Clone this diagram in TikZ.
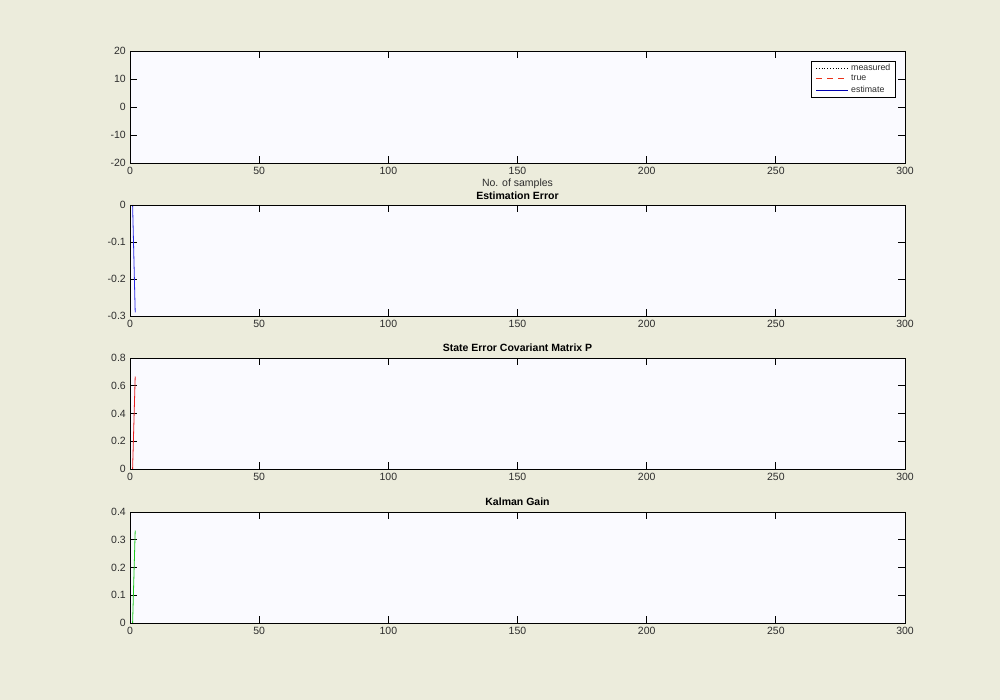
\documentclass[tikz,border=0pt]{standalone}
\usepackage{fontspec}
\setmainfont{Liberation Sans}
\definecolor{bgc}{RGB}{236,236,220}
\definecolor{axbg}{RGB}{250,250,255}
\definecolor{txt}{RGB}{45,45,45}
\definecolor{estblue}{RGB}{40,40,230}
\definecolor{pred}{RGB}{230,30,30}
\definecolor{kgreen}{RGB}{30,200,30}
\newcommand\plotaxes[6]{% #1 top, #2 ymin, #3 ymax, #4 ytick list, #5 name, #6 bottom
  \fill[axbg] (130,#1) rectangle (905,#6);
  \foreach \v [count=\i] in {0,50,...,300}{
    \draw[tk] (130+\v*2.58333,#1) -- ++(0,7);
    \draw[tk] (130+\v*2.58333,#6) -- ++(0,-7);
    \node[lab,anchor=north] (#5x\i) at (130+\v*2.58333,#6+4) {\v};
  }
  \foreach \v [count=\i] in {#4}{
    \pgfmathsetmacro\yy{#6-(\v-(#2))/((#3)-(#2))*(#6-#1)}
    \draw[tk] (130,\yy) -- ++(7,0);
    \draw[tk] (905,\yy) -- ++(-7,0);
    \node[lab,anchor=east] (#5y\i) at (126,\yy) {\v};
  }
}
\begin{document}
\begin{tikzpicture}[x=1pt,y=-1pt,
  lab/.style={font=\fontsize{10.5}{12}\selectfont, text=txt, inner sep=0pt},
  ttl/.style={font=\fontsize{10.5}{12}\selectfont\bfseries, text=black, inner sep=0pt},
  leg/.style={font=\fontsize{8.8}{10}\selectfont, text=txt, inner sep=0pt, anchor=west},
  tk/.style={line width=0.8pt, black},
  box/.style={line width=0.9pt, black}]
\fill[bgc] (0,0) rectangle (1000,700);
% axes 1
\plotaxes{51}{-20}{20}{-20,-10,0,10,20}{a}{163}
\plotaxes{205}{-0.3}{0}{-0.3,-0.2,-0.1,0}{b}{316}
\plotaxes{358}{0}{0.8}{0,0.2,0.4,0.6,0.8}{c}{469}
\plotaxes{512}{0}{0.4}{0,0.1,0.2,0.3,0.4}{d}{623}
% data
\coordinate (b1) at (132.6,205);
\coordinate (b2) at (135.2,312.3);
\draw[estblue, line width=0.8pt] (b1) -- (b2);
\coordinate (c1) at (132.6,469);
\coordinate (c2) at (135.2,376.5);
\draw[pred, line width=0.8pt] (c1) -- (c2);
\coordinate (d1) at (132.6,623);
\coordinate (d2) at (135.2,530.5);
\draw[kgreen, line width=0.8pt] (d1) -- (d2);
% boxes
\draw[box] (130,51) rectangle (905,163);
\draw[box] (130,205) rectangle (905,316);
\draw[box] (130,358) rectangle (905,469);
\draw[box] (130,512) rectangle (905,623);
% labels
\node[lab] (xl) at (517.5,184) {No. of samples};
\node[ttl] (t2) at (517.5,196) {Estimation Error};
\node[ttl] (t3) at (517.5,348) {State Error Covariant Matrix P};
\node[ttl] (t4) at (517.5,502) {Kalman Gain};
% legend
\filldraw[fill=white, draw=black, line width=0.8pt] (811,61) rectangle (895,97);
\coordinate (m1) at (816,68); \coordinate (m2) at (848,68);
\draw[black, dotted, line width=0.8pt] (m1) -- (m2);
\node[leg] (lm) at (851,67.5) {measured};
\coordinate (tr1) at (816,78.5); \coordinate (tr2) at (848,78.5);
\draw[pred!80!orange, dash pattern=on 6pt off 5pt, line width=0.8pt] (tr1) -- (tr2);
\node[leg] (lt) at (851,78) {true};
\coordinate (e1) at (816,90); \coordinate (e2) at (848,90);
\draw[blue!70!black, line width=0.8pt] (e1) -- (e2);
\node[leg] (le) at (851,89.5) {estimate};
\end{tikzpicture}
\end{document}
